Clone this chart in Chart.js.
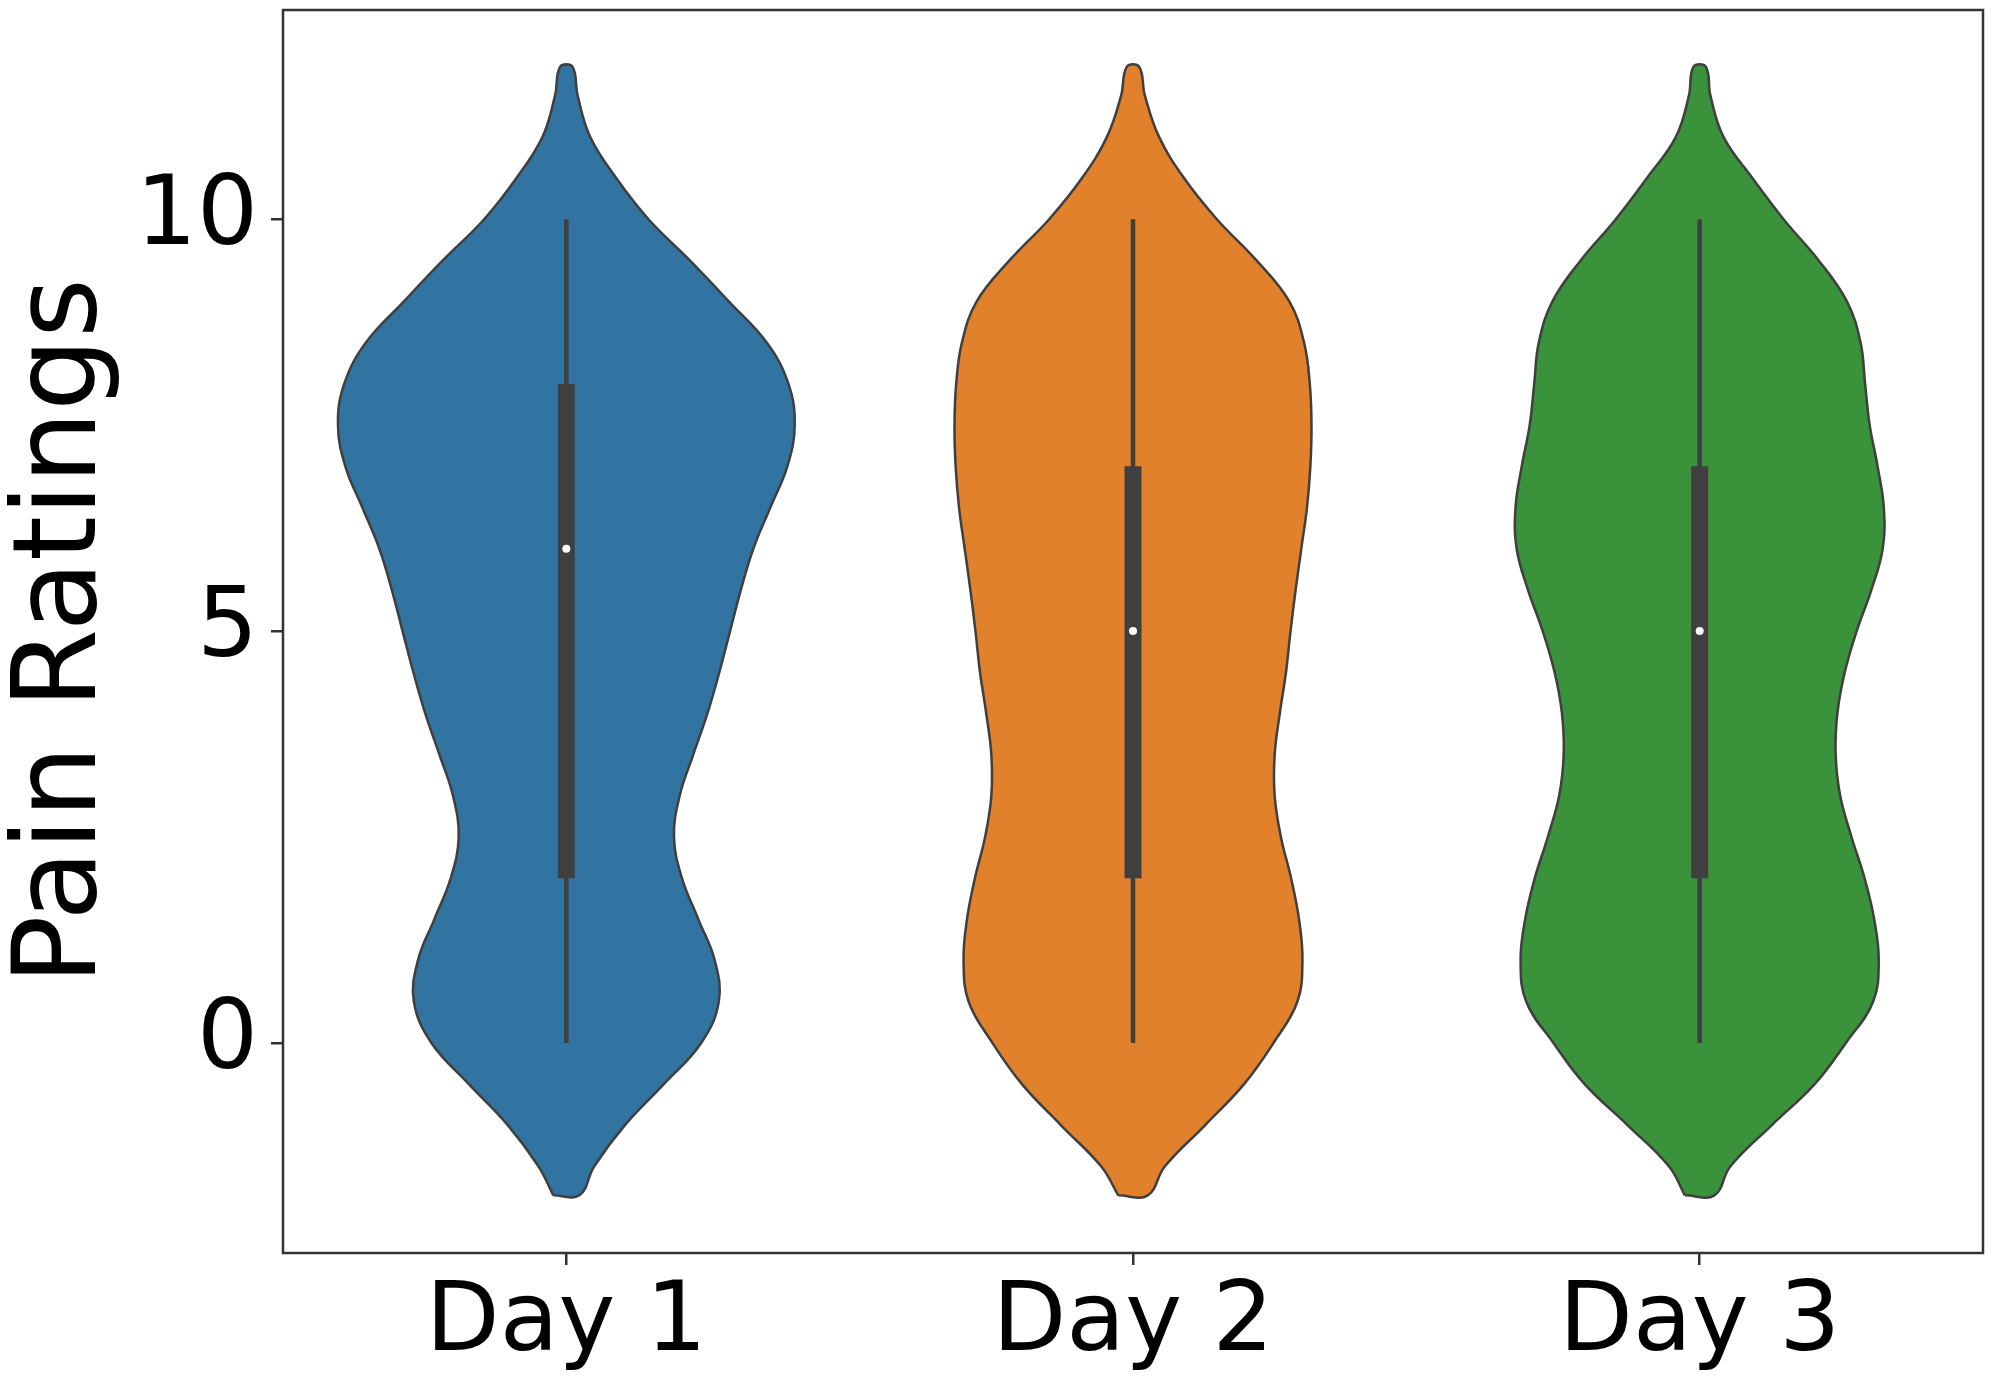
<!DOCTYPE html>
<html>
<head>
<meta charset="utf-8">
<script src="https://cdn.jsdelivr.net/npm/chart.js@4"></script>
<style>
  html, body { margin: 0; padding: 0; background: #fff; }
  #wrap { width: 1995px; height: 1386px; }
</style>
</head>
<body>
<div id="wrap"><canvas id="violinChart"></canvas></div>
<script>
// categories + axis ticks
const days = ["Day 1", "Day 2", "Day 3"];
const yTicks = [0, 5, 10];

const levels = [11.85, 11.5, 11.0, 10.5, 10.0, 9.5, 9.0, 8.5, 8.0, 7.5, 7.0, 6.5, 6.0, 5.5, 5.0,
  4.5, 4.0, 3.5, 3.0, 2.5, 2.0, 1.5, 1.0, 0.5, 0.0, -0.5, -1.0, -1.5, -1.85];

// half widths of each violin (density, in category units) at those levels
const densityDay1 = [0.011, 0.020, 0.042, 0.088, 0.145, 0.218, 0.287, 0.354, 0.392, 0.403, 0.390, 0.360, 0.330, 0.308, 0.289,
  0.270, 0.249, 0.224, 0.200, 0.190, 0.204, 0.233, 0.262, 0.269, 0.238, 0.172, 0.103, 0.049, 0.023];
const densityDay2 = [0.011, 0.021, 0.046, 0.090, 0.148, 0.218, 0.276, 0.302, 0.312, 0.315, 0.313, 0.307, 0.297, 0.287, 0.278,
  0.270, 0.259, 0.250, 0.250, 0.261, 0.279, 0.293, 0.299, 0.290, 0.248, 0.196, 0.127, 0.056, 0.026];
const densityDay3 = [0.011, 0.019, 0.042, 0.093, 0.148, 0.210, 0.260, 0.284, 0.292, 0.300, 0.314, 0.325, 0.323, 0.303, 0.277,
  0.256, 0.243, 0.240, 0.248, 0.268, 0.291, 0.308, 0.316, 0.306, 0.258, 0.203, 0.127, 0.054, 0.026];

// box summary per day
const whiskerLow = [0, 0, 0];
const quartile1 = [2, 2, 2];
const medians = [6, 5, 5];
const quartile3 = [8, 7, 7];
const whiskerHigh = [10, 10, 10];

const fills = ["#3274a1", "#e1812c", "#3a923a"];
const edge = "#3f3f3f";

// outline goes up the left side, back down the right side
function violinPoints(center, widths) {
  const pts = [];
  for (let i = levels.length - 1; i >= 0; i--) pts.push({ x: center - widths[i], y: levels[i] });
  for (let i = 0; i < levels.length; i++) pts.push({ x: center + widths[i], y: levels[i] });
  pts.push(pts[0]);
  return pts;
}

const densities = [densityDay1, densityDay2, densityDay3];
const datasets = [];

densities.forEach((w, i) => {
  datasets.push({
    data: violinPoints(i, w),
    showLine: true,
    fill: "shape",
    backgroundColor: fills[i],
    borderColor: edge,
    borderWidth: 2.5,
    tension: 0.4,
    pointRadius: 0,
    order: 4
  });
  datasets.push({
    data: [{ x: i, y: whiskerLow[i] }, { x: i, y: whiskerHigh[i] }],
    showLine: true,
    borderColor: edge,
    borderWidth: 4.5,
    pointRadius: 0,
    order: 3
  });
  datasets.push({
    data: [{ x: i, y: quartile1[i] }, { x: i, y: quartile3[i] }],
    showLine: true,
    borderColor: edge,
    borderWidth: 17,
    borderCapStyle: "butt",
    pointRadius: 0,
    order: 2
  });
  datasets.push({
    data: [{ x: i, y: medians[i] }],
    pointRadius: 4,
    pointBackgroundColor: "#ffffff",
    pointBorderWidth: 0,
    order: 1
  });
});

// plain box around the plot area, like matplotlib spines
const frame = {
  id: "frame",
  afterDraw(chart) {
    const { ctx, chartArea: a } = chart;
    ctx.save();
    ctx.strokeStyle = "#333333";
    ctx.lineWidth = 2.5;
    ctx.strokeRect(a.left, a.top, a.right - a.left, a.bottom - a.top);
    ctx.restore();
  }
};

const font = { family: "DejaVu Sans", size: 96 };

new Chart(document.getElementById("violinChart"), {
  type: "scatter",
  data: { datasets },
  plugins: [frame],
  options: {
    responsive: true,
    maintainAspectRatio: false,
    animation: false,
    layout: { padding: { top: 10, right: 12, left: 0, bottom: 0 } },
    plugins: { legend: { display: false }, tooltip: { enabled: false } },
    scales: {
      x: {
        type: "linear",
        min: -0.5,
        max: 2.5,
        afterBuildTicks: (s) => { s.ticks = days.map((_, i) => ({ value: i })); },
        afterFit: (s) => { s.height = 133; s.paddingLeft = 0; s.paddingRight = 0; },
        border: { display: false },
        grid: { drawOnChartArea: false, tickLength: 12, tickColor: "#333333", lineWidth: 2.5 },
        ticks: { color: "#000", font, padding: 2, maxRotation: 0, callback: (v) => days[v] }
      },
      y: {
        type: "linear",
        min: -2.55,
        max: 12.54,
        afterBuildTicks: (s) => { s.ticks = yTicks.map((v) => ({ value: v })); },
        afterFit: (s) => { s.width = 283; s.paddingTop = 0; s.paddingBottom = 0; },
        border: { display: false },
        grid: { drawOnChartArea: false, tickLength: 12, tickColor: "#333333", lineWidth: 2.5 },
        ticks: { color: "#000", font, padding: 13 },
        title: {
          display: true,
          text: "Pain Ratings",
          color: "#000",
          font: { family: "DejaVu Sans", size: 115, lineHeight: 1 },
          padding: { top: 8, bottom: 0 }
        }
      }
    }
  }
});
</script>
</body>
</html>
